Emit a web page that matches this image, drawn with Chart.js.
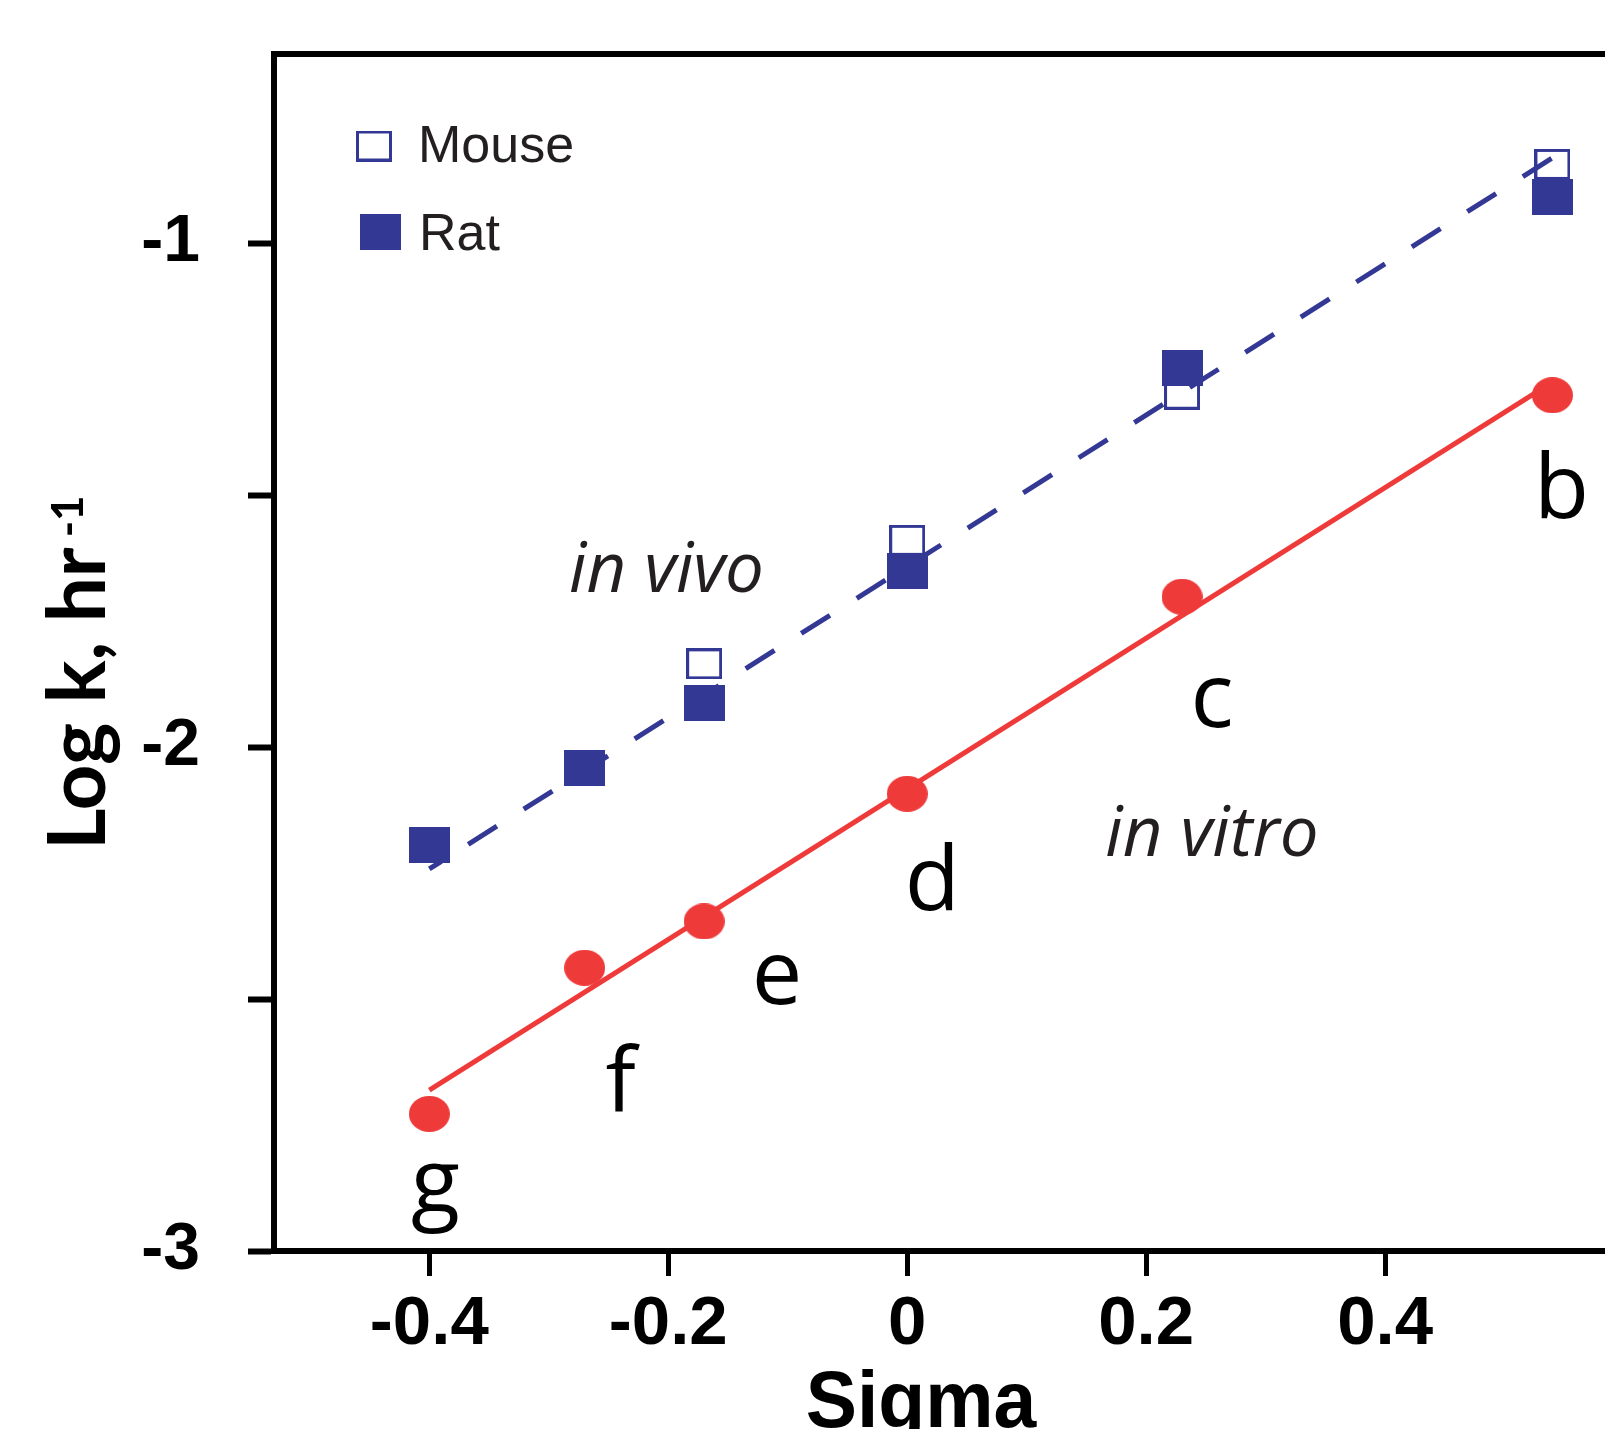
<!DOCTYPE html>
<html>
<head>
<meta charset="utf-8">
<script src="https://cdn.jsdelivr.net/npm/chart.js@4.4.1/dist/chart.umd.min.js"></script>
<style>
html, body { margin: 0; padding: 0; background: #fff; overflow: hidden; }
canvas { display: block; }
</style>
</head>
<body>
<canvas id="sigma_chart" width="1605" height="1429"></canvas>
<script>
// values (x = Sigma, y = Log k)
const mouse_sigma = [-0.17, 0, 0.23, 0.54];
const mouse_logk = [-1.835, -1.590, -1.300, -0.844];
const rat_sigma = [-0.40, -0.27, -0.17, 0, 0.23, 0.54];
const rat_logk = [-2.194, -2.041, -1.912, -1.651, -1.248, -0.909];
const vitro_sigma = [-0.40, -0.27, -0.17, 0, 0.23, 0.54];
const vitro_logk = [-2.728, -2.438, -2.346, -2.093, -1.702, -1.302];
const vitro_names = ['g', 'f', 'e', 'd', 'c', 'b'];
// fitted lines (end points)
const vivo_fit_sigma = [-0.40, 0.54];
const vivo_fit_logk = [-2.242, -0.831];
const vitro_fit_sigma = [-0.40, 0.54];
const vitro_fit_logk = [-2.681, -1.276];
// axes
const x_tick_values = [-0.4, -0.2, 0, 0.2, 0.4];
const x_tick_labels = ['-0.4', '-0.2', '0', '0.2', '0.4'];
const y_tick_values = [-3, -2.5, -2, -1.5, -1];
const y_tick_labels = ['-3', '', '-2', '', '-1'];

const blue = '#333895';
const red = '#ef3a3a';
const ink = '#231f20';

// offsets (px) of the letters b..g from their dot
const name_offsets = [[6, 98], [36, 143], [73, 83], [25, 116], [30, 130], [9, 123]];

function make_marker(w, h, paint) {
    const c = document.createElement('canvas');
    c.width = w;
    c.height = h;
    paint(c.getContext('2d'), w, h);
    return c;
}
const mouse_marker = make_marker(36, 31, function (g, w, h) {
    g.strokeStyle = blue;
    g.lineWidth = 3;
    g.strokeRect(1.5, 1.5, w - 3, h - 3);
});
const rat_marker = make_marker(41, 36, function (g, w, h) {
    g.fillStyle = blue;
    g.fillRect(0, 0, w, h);
});
const vitro_marker = make_marker(41, 36, function (g, w, h) {
    g.fillStyle = red;
    g.beginPath();
    g.ellipse(w / 2, h / 2, w / 2, h / 2, 0, 0, Math.PI * 2);
    g.fill();
});

function to_points(xs, ys) {
    return xs.map(function (x, i) { return { x: x, y: ys[i] }; });
}

// frame top, legend, letters, notes and axis titles
const overlay_plugin = {
    id: 'overlay',
    afterDraw: function (chart) {
        const ctx = chart.ctx;
        const area = chart.chartArea;
        const sx = chart.scales.x;
        const sy = chart.scales.y;
        ctx.save();

        // top frame line
        ctx.strokeStyle = '#000';
        ctx.lineWidth = 6;
        ctx.beginPath();
        ctx.moveTo(area.left - 3, area.top);
        ctx.lineTo(chart.width, area.top);
        ctx.stroke();

        // legend
        ctx.drawImage(mouse_marker, 374 - 18, 146 - 15.5);
        ctx.drawImage(rat_marker, 380 - 20.5, 232 - 18);
        ctx.fillStyle = ink;
        ctx.font = '52px "Liberation Sans", Arial, sans-serif';
        ctx.textAlign = 'left';
        ctx.textBaseline = 'alphabetic';
        ctx.fillText('Mouse', 418, 162);
        ctx.fillText('Rat', 419, 250);

        // compound letters under the in vitro dots
        ctx.fillStyle = '#000';
        ctx.font = '90px "Open Sans", sans-serif';
        ctx.textAlign = 'center';
        vitro_names.forEach(function (name, i) {
            const px = sx.getPixelForValue(vitro_sigma[i]) + name_offsets[i][0];
            const py = sy.getPixelForValue(vitro_logk[i]) + name_offsets[i][1];
            ctx.fillText(name, px, py);
        });

        // in vivo / in vitro notes
        ctx.fillStyle = ink;
        ctx.font = 'italic 69px "Open Sans", sans-serif';
        ctx.fillText('in vivo', sx.getPixelForValue(-0.2015), sy.getPixelForValue(-1.692));
        ctx.fillText('in vitro', sx.getPixelForValue(0.2550), sy.getPixelForValue(-2.216));

        // x title
        ctx.fillStyle = '#000';
        ctx.save();
        ctx.translate(921, 1427);
        ctx.scale(0.96, 1);
        ctx.font = 'bold 80px "Liberation Sans", Arial, sans-serif';
        ctx.fillText('Sigma', 0, 0);
        ctx.restore();

        // y title
        ctx.save();
        ctx.translate(105, 850);
        ctx.rotate(-Math.PI / 2);
        ctx.textAlign = 'left';
        ctx.font = 'bold 80px Lato, sans-serif';
        ctx.fillText('Log k, hr', 0, 0);
        const w = ctx.measureText('Log k, hr').width;
        ctx.font = 'bold 44px Lato, sans-serif';
        ctx.fillText('-1', w + 10, -22);
        ctx.restore();

        ctx.restore();
    }
};

const sigma_chart = new Chart(document.getElementById('sigma_chart').getContext('2d'), {
    type: 'scatter',
    data: {
        datasets: [
            {
                label: 'in vivo fit',
                data: to_points(vivo_fit_sigma, vivo_fit_logk),
                showLine: true,
                borderColor: blue,
                borderWidth: 5,
                borderDash: [34, 31.7],
                borderDashOffset: 19.7,
                pointRadius: 0,
                order: 10
            },
            {
                label: 'in vitro fit',
                data: to_points(vitro_fit_sigma, vitro_fit_logk),
                showLine: true,
                borderColor: red,
                borderWidth: 5,
                pointRadius: 0,
                order: 9
            },
            {
                label: 'Mouse',
                data: to_points(mouse_sigma, mouse_logk),
                pointStyle: mouse_marker,
                pointRadius: 18,
                order: 3
            },
            {
                label: 'in vitro',
                data: to_points(vitro_sigma, vitro_logk),
                pointStyle: vitro_marker,
                pointRadius: 18,
                order: 2
            },
            {
                label: 'Rat',
                data: to_points(rat_sigma, rat_logk),
                pointStyle: rat_marker,
                pointRadius: 18,
                order: 1
            }
        ]
    },
    options: {
        responsive: false,
        animation: false,
        devicePixelRatio: 1,
        layout: { autoPadding: false, padding: { top: 54, left: 0, right: 0, bottom: 0 } },
        plugins: {
            legend: { display: false },
            tooltip: { enabled: false }
        },
        scales: {
            x: {
                type: 'linear',
                min: -0.53,
                max: 0.584,
                afterBuildTicks: function (scale) {
                    scale.ticks = x_tick_values.map(function (v) { return { value: v }; });
                },
                afterFit: function (scale) {
                    scale.height = 178;
                    scale.paddingLeft = 0;
                    scale.paddingRight = 0;
                    scale.paddingTop = 0;
                    scale.paddingBottom = 0;
                },
                ticks: {
                    autoSkip: false,
                    maxRotation: 0,
                    padding: 8,
                    color: '#000',
                    font: { family: '"Liberation Sans", Arial, sans-serif', weight: 'bold', size: 69 },
                    callback: function (v, i) { return x_tick_labels[i]; }
                },
                grid: { drawOnChartArea: false, drawTicks: true, tickLength: 25, tickWidth: 5, color: '#000' },
                border: { display: true, color: '#000', width: 6 }
            },
            y: {
                type: 'linear',
                min: -3,
                max: -0.625,
                afterBuildTicks: function (scale) {
                    scale.ticks = y_tick_values.map(function (v) { return { value: v }; });
                },
                afterFit: function (scale) {
                    scale.width = 274;
                    scale.paddingLeft = 0;
                    scale.paddingRight = 0;
                    scale.paddingTop = 0;
                    scale.paddingBottom = 0;
                },
                ticks: {
                    autoSkip: false,
                    padding: 48,
                    color: '#000',
                    font: { family: '"Liberation Sans", Arial, sans-serif', weight: 'bold', size: 66 },
                    callback: function (v, i) { return y_tick_labels[i]; }
                },
                grid: { drawOnChartArea: false, drawTicks: true, tickLength: 26, tickWidth: 6, color: '#000' },
                border: { display: true, color: '#000', width: 6 }
            }
        }
    },
    plugins: [overlay_plugin]
});
</script>
</body>
</html>
